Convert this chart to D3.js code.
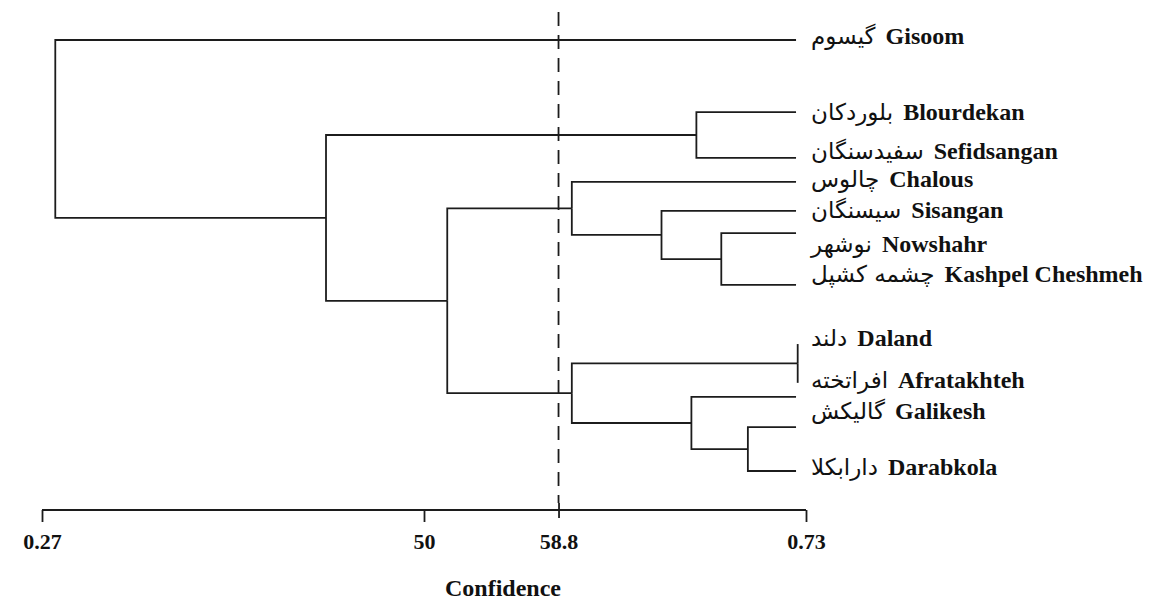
<!DOCTYPE html>
<html>
<head>
<meta charset="utf-8">
<script src="https://cdn.jsdelivr.net/npm/d3@7"></script>
<style>
    body { margin: 0; background: #fff; }
    svg { display: block; }
    .link { fill: none; stroke: #1c1c1c; stroke-width: 1.8; }
    .cutoff { stroke: #1c1c1c; stroke-width: 1.8; stroke-dasharray: 14 9; }
    .axis path, .axis line { stroke: #1c1c1c; stroke-width: 1.8; }
    .axis text, .name-en, .axis-title {
        font-family: "Liberation Serif", "Times New Roman", serif;
        font-weight: bold;
        fill: #111;
    }
    .name-fa { font-family: "DejaVu Sans", sans-serif; fill: #111; }
</style>
</head>
<body>
<div id="chart"></div>
<script>
// tips of the tree, top to bottom ("" = tip drawn without a label)
var tips = ["Gisoom", "Blourdekan", "Sefidsangan", "Chalous", "Sisangan", "Nowshahr",
    "Kashpel Cheshmeh", "Daland", "Afratakhteh", "", "Galikesh", "Darabkola"];
var tipRow = [0, 1.84, 3.01, 3.62, 4.36, 4.93, 6.25, 7.76, 8.75, 9.11, 9.88, 11];

// merges in order: [left, right, similarity], merge i gets the id "m" + (i + 1)
var merges = [
    ["Daland", "Afratakhteh", 0.725],
    ["Galikesh", "Darabkola", 0.695],
    ["Nowshahr", "Kashpel Cheshmeh", 0.679],
    ["Blourdekan", "Sefidsangan", 0.664],
    ["", "m2", 0.661],
    ["Sisangan", "m3", 0.643],
    ["Chalous", "m6", 0.589],
    ["m1", "m5", 0.589],
    ["m7", "m8", 0.514],
    ["m4", "m9", 0.441],
    ["Gisoom", "m10", 0.278]
];
var tipEnd = 0.724;

// labels
var labelEn = ["Gisoom", "Blourdekan", "Sefidsangan", "Chalous", "Sisangan", "Nowshahr",
    "Kashpel Cheshmeh", "Daland", "Afratakhteh", "Galikesh", "Darabkola"];
var labelFa = ["گیسوم", "بلوردکان", "سفیدسنگان", "چالوس", "سیسنگان", "نوشهر",
    "چشمه کشپل", "دلند", "افراتخته", "گالیکش", "دارابکلا"];
var labelRow = [0.10, 2.04, 3.04, 3.75, 4.54, 5.41, 6.18, 7.81, 8.88, 9.67, 11.10];

// axis
var tickValues = [0.27, 0.50, 0.581, 0.73];
var tickLabels = ["0.27", "50", "58.8", "0.73"];
var cutoff = 0.581;

var width = 1155, height = 601;

var x = d3.scaleLinear().domain([0.27, 0.73]).range([42, 806]);
var y = d3.scaleLinear().domain([0, 11]).range([40, 471]);

var svg = d3.select("#chart")
    .append("svg")
    .attr("width", width)
    .attr("height", height);

/**
 * Build the hierarchy out of the merge list.
 * @returns d3 hierarchy of the last merge
 * @private
 */
var _buildTree = function () {
    var nodes = {};
    tips.forEach(function (t, i) {
        nodes[t] = {name: t, row: tipRow[i], sim: tipEnd};
    });
    merges.forEach(function (m, i) {
        nodes["m" + (i + 1)] = {name: "m" + (i + 1), sim: m[2], children: [nodes[m[0]], nodes[m[1]]]};
    });
    return d3.hierarchy(nodes["m" + merges.length]);
};

var root = _buildTree();
// leaves sit on their row, a cluster sits half way between its children
root.eachAfter(function (d) {
    d.px = x(d.data.sim);
    d.py = d.children ? d3.mean(d.children, function (c) { return c.py; }) : y(d.data.row);
});
// a tip never ends left of its own cluster
root.each(function (d) {
    if (!d.children && d.parent) d.px = Math.max(d.px, d.parent.px);
});

svg.append("line")
    .attr("class", "cutoff")
    .attr("x1", x(cutoff))
    .attr("x2", x(cutoff))
    .attr("y1", 12)
    .attr("y2", 503);

svg.append("g")
    .selectAll("path")
    .data(root.links())
    .join("path")
    .attr("class", "link")
    .attr("d", function (l) {
        return "M" + l.target.px + "," + l.target.py + "H" + l.source.px + "V" + l.source.py;
    });

// axis
var axisG = svg.append("g")
    .attr("class", "axis")
    .attr("transform", "translate(0,510)")
    .call(d3.axisBottom(x)
        .tickValues(tickValues)
        .tickFormat(function (d, i) { return tickLabels[i]; })
        .tickSize(12)
        .tickSizeOuter(0));
axisG.select(".domain").attr("d", "M" + x(0.27) + ",0H" + x(0.73));
axisG.selectAll(".tick line")
    .attr("y1", function (d) { return d === cutoff ? -7 : 0; })
    .attr("y2", function (d) { return d === cutoff ? 8 : 12; });
axisG.selectAll(".tick text")
    .attr("y", 39)
    .attr("dy", 0)
    .style("font-size", "22px");

svg.append("text")
    .attr("class", "axis-title")
    .attr("x", 503)
    .attr("y", 596)
    .attr("text-anchor", "middle")
    .style("font-size", "24px")
    .text("Confidence");

// labels: persian name then english name
var labels = svg.append("g")
    .selectAll("g")
    .data(labelEn)
    .join("g")
    .attr("transform", function (d, i) { return "translate(" + (x(tipEnd) + 15) + "," + y(labelRow[i]) + ")"; });

labels.append("text")
    .attr("class", "name-fa")
    .style("font-size", "23px")
    .text(function (d, i) { return labelFa[i]; });

labels.append("text")
    .attr("class", "name-en")
    .style("font-size", "24px")
    .attr("x", function () {
        return this.parentNode.querySelector(".name-fa").getComputedTextLength() + 10;
    })
    .text(function (d) { return d; });
</script>
</body>
</html>
